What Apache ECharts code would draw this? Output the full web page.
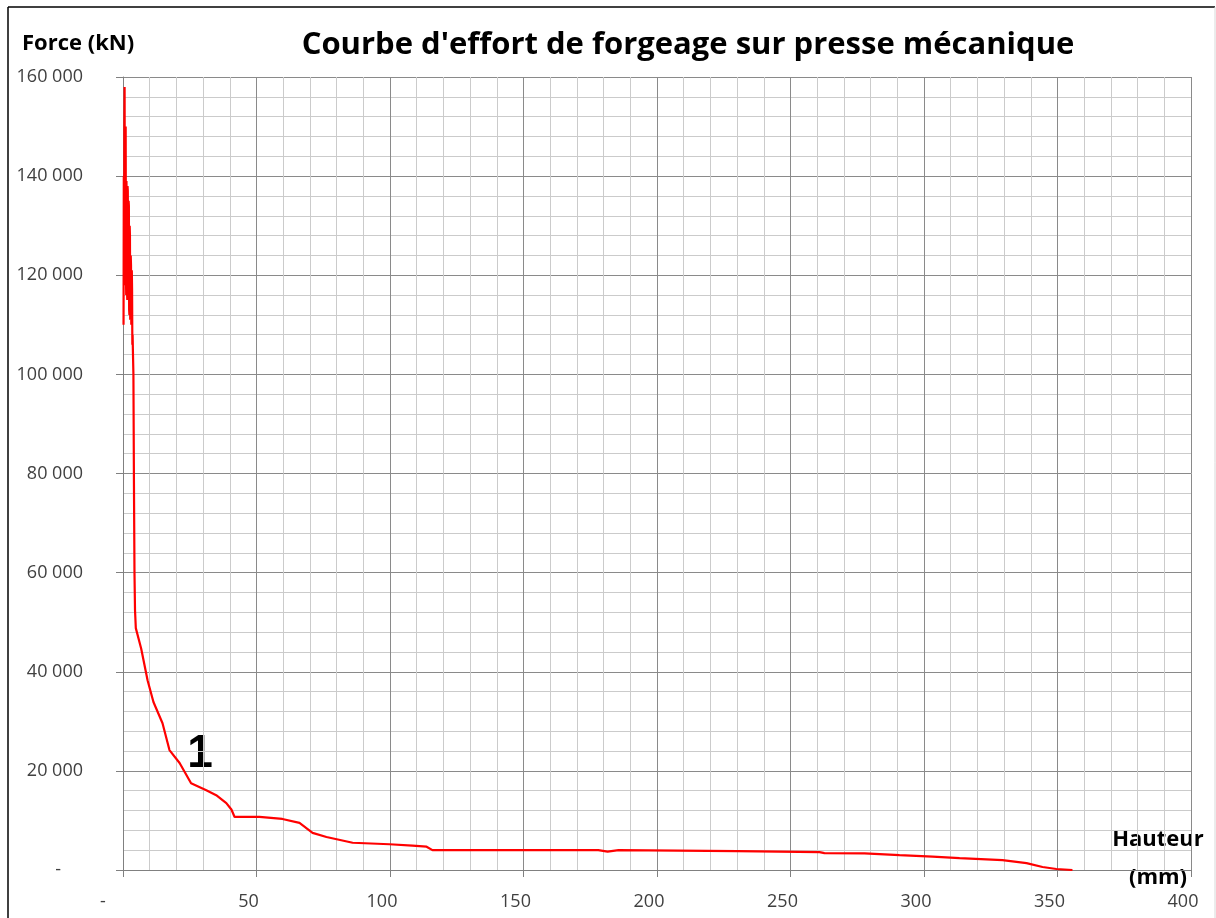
<!DOCTYPE html>
<html>
<head>
<meta charset="utf-8">
<title>Courbe d'effort</title>
<script src="https://cdn.jsdelivr.net/npm/echarts@6/dist/echarts.min.js"></script>
<style>
  html, body { margin: 0; padding: 0; background: #fff; }
  #container { width: 1216px; height: 918px; }
</style>
</head>
<body>
<div id="container"></div>
<script type="text/javascript">
// hauteur (mm) -> effort (kN)
var hauteur = [0.2, 0.3, 0.4, 0.5, 0.6, 0.7, 0.8, 0.9, 1.0, 1.1, 1.2, 1.3, 1.4, 1.5, 1.6, 1.7, 1.8, 1.9,
  2.0, 2.1, 2.2, 2.3, 2.4, 2.5, 2.6, 2.7, 2.8, 2.9, 3.0, 3.1, 3.2, 3.3, 3.4, 3.5, 3.6,
  3.7, 3.9, 4.1, 4.3, 4.5, 4.8, 6.8, 9.2, 11.4, 14.8, 17.4, 21.2, 25.5, 31.2, 34.9, 38.7, 40.6, 41.8,
  51.1, 59.7, 66.1, 71.0, 76.2, 86.0, 99.8, 108.4, 113.7, 115.9, 178, 178.5, 181.5, 182, 185.6, 186,
  230, 230.5, 260.9, 262.7, 277.7, 290.8, 303.2, 313.3, 329.4, 338.4, 344.4, 349.6, 355.6];
var effort = [110000, 140000, 118000, 150000, 158000, 125000, 118000, 146000, 150000, 120000, 116000, 139000, 139000, 117000, 115000, 138000, 137000, 116000,
  118000, 135000, 134000, 113000, 112000, 130000, 128000, 111000, 114000, 124000, 122000, 110000, 113000, 121000, 117000, 106000, 108000,
  105000, 100000, 78000, 60000, 52400, 48800, 44700, 38300, 33900, 29600, 24200, 21600, 17500, 16100, 15100, 13500, 12200, 10700,
  10700, 10300, 9500, 7500, 6650, 5500, 5200, 4900, 4700, 4000, 4000, 3700, 3700, 4000, 4000, 3800,
  3800, 3600, 3600, 3400, 3350, 3000, 2700, 2400, 2000, 1400, 600, 200, 0];

var titre = "Courbe d'effort de forgeage sur presse mécanique";
var nomY = 'Force (kN)';
var nomX = ['Hauteur', '(mm)'];

var points = hauteur.map(function (h, i) { return [h, effort[i]]; });

function milliers(v) {
  if (v === 0) return '{dash|-}';
  return String(v).replace(/\B(?=(\d{3})+(?!\d))/g, ' ');
}

var font = '"Open Sans", "Liberation Sans", sans-serif';
var myChart = echarts.init(document.getElementById('container'));
myChart.setOption({
  animation: false,
  backgroundColor: '#fff',
  grid: { left: 123, right: 25, top: 77, bottom: 48 },
  xAxis: {
    type: 'value', min: 0, max: 400, interval: 50,
    axisLine: { show: true, onZero: false, lineStyle: { color: '#808080', width: 1 } },
    axisTick: { show: true, length: 7, lineStyle: { color: '#808080' } },
    axisLabel: {
      margin: 23, fontSize: 18, color: '#404040', fontFamily: font,
      padding: [0, 16, 0, 0],
      formatter: function (v) { return v === 0 ? '{dash|-}' : String(v); },
      rich: { dash: { fontSize: 18, color: '#404040', padding: [0, 24, 0, 0] } }
    },
    splitLine: { show: true, lineStyle: { color: '#8a8a8a', width: 1 } },
    minorTick: { show: false, splitNumber: 5 },
    minorSplitLine: { show: true, lineStyle: { color: '#cbcbcb', width: 1 } }
  },
  yAxis: {
    type: 'value', min: 0, max: 160000, interval: 20000,
    axisLine: { show: true, lineStyle: { color: '#808080', width: 1 } },
    axisTick: { show: true, length: 7, lineStyle: { color: '#808080' } },
    axisLabel: {
      margin: 40, fontSize: 18, color: '#404040', fontFamily: font,
      formatter: milliers,
      rich: { dash: { fontSize: 18, color: '#404040', padding: [0, 22, 0, 0] } }
    },
    splitLine: { show: true, lineStyle: { color: '#8a8a8a', width: 1 } },
    minorTick: { show: false, splitNumber: 5 },
    minorSplitLine: { show: true, lineStyle: { color: '#cbcbcb', width: 1 } }
  },
  series: [{
    type: 'line',
    data: points,
    showSymbol: false,
    lineStyle: { color: '#ff0000', width: 2.2 },
    itemStyle: { color: '#ff0000' }
  }],
  graphic: [
    { type: 'line', shape: { x1: 8, y1: 7, x2: 1215, y2: 7 }, style: { stroke: '#000', lineWidth: 1.5 }, silent: true },
    { type: 'line', shape: { x1: 8, y1: 7, x2: 8, y2: 918 }, style: { stroke: '#000', lineWidth: 1.5 }, silent: true },
    { type: 'line', shape: { x1: 1215, y1: 7, x2: 1215, y2: 918 }, style: { stroke: '#d8d8d8', lineWidth: 1 }, silent: true },
    { type: 'text', x: 688, y: 45, style: { text: titre, fontSize: 31, fontWeight: 'bold', fontFamily: font, fill: '#000', textAlign: 'center', textVerticalAlign: 'middle' } },
    { type: 'text', x: 22, y: 44, style: { text: nomY, fontSize: 22, fontWeight: 'bold', fontFamily: font, fill: '#000', textAlign: 'left', textVerticalAlign: 'middle' } },
    { type: 'text', x: 1158, y: 840, style: { text: nomX[0], fontSize: 22, fontWeight: 'bold', fontFamily: font, fill: '#000', textAlign: 'center', textVerticalAlign: 'middle' } },
    { type: 'text', x: 1158, y: 878, style: { text: nomX[1], fontSize: 22, fontWeight: 'bold', fontFamily: font, fill: '#000', textAlign: 'center', textVerticalAlign: 'middle' } },
    { type: 'text', x: 200, y: 754, style: { text: '1', fontSize: 46, fontWeight: 'bold', fontFamily: '"Liberation Sans", Arial, sans-serif', fill: '#000', textAlign: 'center', textVerticalAlign: 'middle' } }
  ]
});
</script>
</body>
</html>
